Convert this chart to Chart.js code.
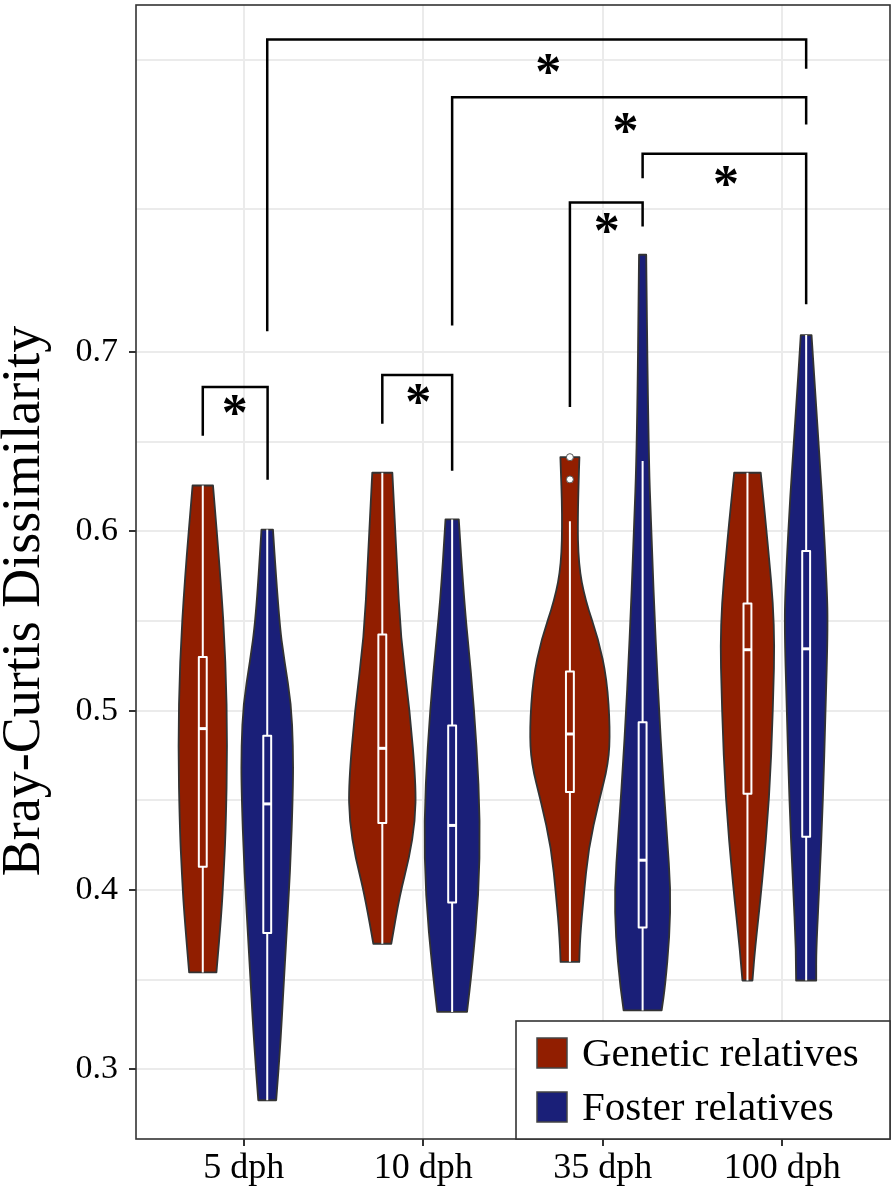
<!DOCTYPE html>
<html lang="en">
<head>
  <meta charset="UTF-8">
  <title>Bray-Curtis Dissimilarity</title>
  <script src="https://cdn.jsdelivr.net/npm/chart.js"></script>
  <style>
    body { margin: 0; background: #fff; }
    #wrap { width: 895px; height: 1193px; }
  </style>
</head>
<body>
<div id="wrap"><canvas id="violinChart" width="895" height="1193"></canvas></div>

<script>
  // categories and groups
  const categories = ['5 dph', '10 dph', '35 dph', '100 dph'];
  const groupNames = ['Genetic relatives', 'Foster relatives'];
  const groupColors = ['#911E00', '#1A1F78'];
  const yTitle = 'Bray-Curtis Dissimilarity';

  // dodged x position of each violin (category units, 1..4)
  const geneticX = [0.772, 1.772, 2.817, 3.806];
  const fosterX = [1.131, 2.161, 3.222, 4.133];

  // box stats: [lower whisker, q1, median, q3, upper whisker]
  const geneticBox = [
      [0.354, 0.413, 0.490, 0.530, 0.6256],
      [0.370, 0.4374, 0.479, 0.5425, 0.6327],
      [0.360, 0.4546, 0.487, 0.5218, 0.6056],
      [0.3495, 0.4537, 0.534, 0.5598, 0.6327]
  ];
  const fosterBox = [
      [0.2827, 0.376, 0.448, 0.486, 0.601],
      [0.332, 0.393, 0.436, 0.4917, 0.6067],
      [0.3328, 0.379, 0.4166, 0.4936, 0.6393],
      [0.3495, 0.4297, 0.5345, 0.589, 0.7095]
  ];

  // outliers (35 dph genetic)
  const geneticOutliers = [[2.817, 0.6414], [2.817, 0.629]];

  // violin density outlines: y values (top to bottom) and half widths
  const geneticViolinY = [
      [0.6256, 0.574, 0.527, 0.480, 0.434, 0.410, 0.387, 0.354],
      [0.6327, 0.583, 0.541, 0.500, 0.459, 0.4385, 0.418, 0.397, 0.370],
      [0.6414, 0.609, 0.5813, 0.5619, 0.5398, 0.5176, 0.4899, 0.4706, 0.4484, 0.4235, 0.3959, 0.3737, 0.3599],
      [0.6327, 0.596, 0.548, 0.4996, 0.451, 0.403, 0.367, 0.3495]
  ];
  const geneticViolinW = [
      [0.057, 0.100, 0.128, 0.137, 0.128, 0.117, 0.104, 0.076],
      [0.056, 0.081, 0.102, 0.153, 0.187, 0.183, 0.150, 0.097, 0.050],
      [0.053, 0.042, 0.048, 0.085, 0.159, 0.206, 0.224, 0.215, 0.159, 0.104, 0.076, 0.057, 0.052],
      [0.074, 0.111, 0.153, 0.142, 0.122, 0.081, 0.042, 0.028]
  ];
  const fosterViolinY = [
      [0.601, 0.551, 0.527, 0.504, 0.480, 0.457, 0.410, 0.363, 0.316, 0.2827],
      [0.6067, 0.562, 0.521, 0.480, 0.4385, 0.397, 0.356, 0.332],
      [0.7543, 0.650, 0.595, 0.540, 0.484, 0.429, 0.401, 0.374, 0.346, 0.3328],
      [0.7095, 0.668, 0.620, 0.572, 0.548, 0.500, 0.451, 0.403, 0.367, 0.3495]
  ];
  const fosterViolinW = [
      [0.032, 0.064, 0.097, 0.133, 0.144, 0.144, 0.128, 0.100, 0.075, 0.050],
      [0.037, 0.065, 0.106, 0.137, 0.156, 0.148, 0.111, 0.083],
      [0.020, 0.031, 0.050, 0.072, 0.100, 0.136, 0.156, 0.150, 0.125, 0.106],
      [0.030, 0.056, 0.089, 0.114, 0.121, 0.108, 0.094, 0.074, 0.056, 0.056]
  ];

  // significance brackets: [xLeft, yLeftEnd, xRight, yRightEnd, yTop]
  const brackets = [
      [0.772, 0.6533, 1.133, 0.6288, 0.6805],
      [1.772, 0.660, 2.161, 0.6338, 0.6872],
      [2.817, 0.6694, 3.222, 0.770, 0.7834],
      [3.222, 0.797, 4.133, 0.7267, 0.8107],
      [2.161, 0.7148, 4.133, 0.827, 0.8422],
      [1.131, 0.7117, 4.133, 0.858, 0.8743]
  ];
  const starX = [0.95, 1.972, 3.022, 3.687, 3.126, 2.697];
  const starY = [0.6705, 0.6766, 0.7718, 0.7985, 0.8276, 0.8608];

  // axis ticks
  const yMajorTicks = [0.3, 0.4, 0.5, 0.6, 0.7];
  const yGridValues = [0.3, 0.35, 0.4, 0.45, 0.5, 0.55, 0.6, 0.65, 0.7, 0.78, 0.863];
  const xTickValues = [1, 2, 3, 4];

  const serif = '"Liberation Serif", "DejaVu Serif", serif';
  const isMajor = v => yMajorTicks.some(m => Math.abs(m - v) < 1e-6);

  // smooth outline through a list of points
  function smoothSide(ctx, pts, first) {
      first ? ctx.moveTo(pts[0][0], pts[0][1]) : ctx.lineTo(pts[0][0], pts[0][1]);
      for (let k = 1; k < pts.length - 1; k++) {
          const mx = (pts[k][0] + pts[k + 1][0]) / 2, my = (pts[k][1] + pts[k + 1][1]) / 2;
          ctx.quadraticCurveTo(pts[k][0], pts[k][1], mx, my);
      }
      const last = pts[pts.length - 1];
      ctx.lineTo(last[0], last[1]);
  }

  // draws the violins and their boxes under the points
  const violinPlugin = {
      id: 'violins',
      beforeDatasetsDraw(chart) {
          const ctx = chart.ctx;
          const xs = chart.scales.x, ys = chart.scales.y;
          const sets = [
              [geneticX, geneticViolinY, geneticViolinW, geneticBox, groupColors[0]],
              [fosterX, fosterViolinY, fosterViolinW, fosterBox, groupColors[1]]
          ];
          ctx.save();
          sets.forEach(([cx, vy, vw, box, color]) => {
              cx.forEach((c, i) => {
                  const yv = vy[i], wv = vw[i];
                  const right = yv.map((y, k) => [xs.getPixelForValue(c + wv[k]), ys.getPixelForValue(y)]);
                  const left = yv.map((y, k) => [xs.getPixelForValue(c - wv[k]), ys.getPixelForValue(y)]).reverse();
                  ctx.beginPath();
                  smoothSide(ctx, right, true);
                  smoothSide(ctx, left, false);
                  ctx.closePath();
                  ctx.fillStyle = color;
                  ctx.fill();
                  ctx.lineWidth = 1.8;
                  ctx.strokeStyle = '#333333';
                  ctx.lineJoin = 'round';
                  ctx.stroke();

                  // boxplot in white
                  const [lo, q1, med, q3, hi] = box[i];
                  const x0 = xs.getPixelForValue(c);
                  const bw = xs.getPixelForValue(c + 0.022) - x0;
                  ctx.strokeStyle = '#ffffff';
                  ctx.lineWidth = 2;
                  ctx.beginPath();
                  ctx.moveTo(x0, ys.getPixelForValue(hi));
                  ctx.lineTo(x0, ys.getPixelForValue(q3));
                  ctx.moveTo(x0, ys.getPixelForValue(q1));
                  ctx.lineTo(x0, ys.getPixelForValue(lo));
                  ctx.stroke();
                  const yq3 = ys.getPixelForValue(q3), yq1 = ys.getPixelForValue(q1);
                  ctx.strokeRect(x0 - bw, yq3, 2 * bw, yq1 - yq3);
                  ctx.lineWidth = 3;
                  ctx.beginPath();
                  ctx.moveTo(x0 - bw, ys.getPixelForValue(med));
                  ctx.lineTo(x0 + bw, ys.getPixelForValue(med));
                  ctx.stroke();
              });
          });
          ctx.restore();
      }
  };

  // brackets, stars, panel border, axis title and legend
  const overlayPlugin = {
      id: 'overlay',
      afterDraw(chart) {
          const ctx = chart.ctx;
          const xs = chart.scales.x, ys = chart.scales.y;
          const area = chart.chartArea;
          ctx.save();

          ctx.strokeStyle = '#000';
          ctx.lineWidth = 2.5;
          ctx.lineCap = 'butt';
          brackets.forEach(b => {
              ctx.beginPath();
              ctx.moveTo(xs.getPixelForValue(b[0]), ys.getPixelForValue(b[1]));
              ctx.lineTo(xs.getPixelForValue(b[0]), ys.getPixelForValue(b[4]));
              ctx.lineTo(xs.getPixelForValue(b[2]), ys.getPixelForValue(b[4]));
              ctx.lineTo(xs.getPixelForValue(b[2]), ys.getPixelForValue(b[3]));
              ctx.stroke();
          });

          ctx.fillStyle = '#000';
          ctx.font = 'bold 52px ' + serif;
          ctx.textAlign = 'center';
          ctx.textBaseline = 'alphabetic';
          const m = ctx.measureText('*');
          const off = (m.actualBoundingBoxAscent - m.actualBoundingBoxDescent) / 2;
          starX.forEach((sx, i) => {
              ctx.fillText('*', xs.getPixelForValue(sx), ys.getPixelForValue(starY[i]) + off);
          });

          // panel border
          ctx.strokeStyle = '#333333';
          ctx.lineWidth = 1.6;
          ctx.strokeRect(area.left, area.top, area.right - area.left, area.bottom - area.top);

          // y axis title
          ctx.save();
          ctx.translate(25, 601);
          ctx.rotate(-Math.PI / 2);
          ctx.font = '54px ' + serif;
          ctx.fillStyle = '#000';
          ctx.textAlign = 'center';
          ctx.textBaseline = 'middle';
          ctx.fillText(yTitle, 0, 0);
          ctx.restore();

          // legend box in the lower right corner
          const lw = 374, lh = 118;
          const lx = area.right - lw, ly = area.bottom - lh;
          ctx.fillStyle = '#fff';
          ctx.fillRect(lx, ly, lw, lh);
          ctx.strokeRect(lx, ly, lw, lh);
          ctx.font = '41px ' + serif;
          ctx.textAlign = 'left';
          ctx.textBaseline = 'middle';
          groupNames.forEach((name, i) => {
              const cy = ly + 32 + i * 54;
              ctx.fillStyle = groupColors[i];
              ctx.fillRect(lx + 21, cy - 15, 30, 30);
              ctx.lineWidth = 1.5;
              ctx.strokeStyle = '#444';
              ctx.strokeRect(lx + 21, cy - 15, 30, 30);
              ctx.fillStyle = '#000';
              ctx.fillText(name, lx + 66, cy + 2);
          });
          ctx.restore();
      }
  };

  const ctx = document.getElementById('violinChart').getContext('2d');
  new Chart(ctx, {
      type: 'scatter',
      data: {
          datasets: [{
              label: groupNames[0],
              data: geneticOutliers.map(p => ({x: p[0], y: p[1]})),
              backgroundColor: '#ffffff',
              borderColor: '#555555',
              borderWidth: 1,
              pointRadius: 3.5
          }]
      },
      options: {
          responsive: false,
          animation: false,
          layout: { padding: { top: 2, right: 2, left: 0, bottom: 0 } },
          plugins: {
              legend: { display: false },
              tooltip: { enabled: false }
          },
          scales: {
              x: {
                  type: 'linear',
                  min: 0.4,
                  max: 4.6,
                  afterBuildTicks: s => { s.ticks = xTickValues.map(v => ({value: v})); },
                  afterFit: s => { s.height = 54; s.paddingLeft = 0; s.paddingRight = 0; },
                  ticks: {
                      callback: v => categories[Math.round(v) - 1],
                      font: { family: serif, size: 36 },
                      color: '#000',
                      padding: 1,
                      maxRotation: 0
                  },
                  grid: { color: '#EBEBEB', lineWidth: 2, tickColor: '#333', tickLength: 7 },
                  border: { display: false }
              },
              y: {
                  type: 'linear',
                  min: 0.2611,
                  max: 0.8936,
                  afterBuildTicks: s => { s.ticks = yGridValues.map(v => ({value: v})); },
                  afterFit: s => { s.width = 136; s.paddingTop = 0; s.paddingBottom = 0; },
                  ticks: {
                      callback: v => isMajor(v) ? v.toFixed(1) : '',
                      font: { family: serif, size: 34 },
                      color: '#000',
                      padding: 11
                  },
                  grid: {
                      color: '#EBEBEB',
                      lineWidth: 2,
                      tickLength: 7,
                      tickColor: c => isMajor(c.tick.value) ? '#333' : 'rgba(0,0,0,0)'
                  },
                  border: { display: false }
              }
          }
      },
      plugins: [violinPlugin, overlayPlugin]
  });
</script>
</body>
</html>
